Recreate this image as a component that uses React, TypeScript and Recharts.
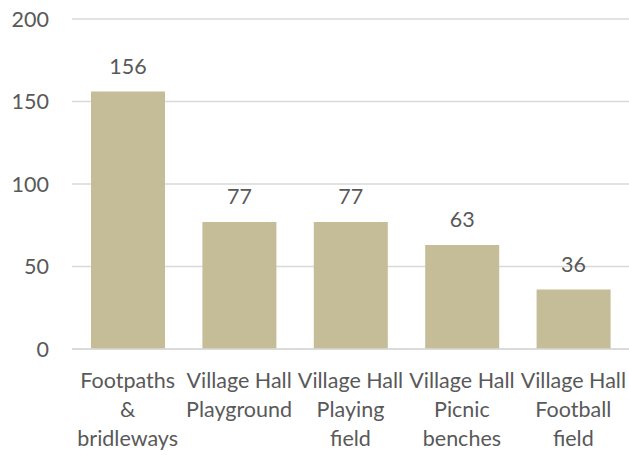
import { BarChart, Bar, XAxis, YAxis, CartesianGrid, LabelList } from "recharts";

const categories = ["Footpaths & bridleways", "Village Hall Playground", "Village Hall Playing field", "Village Hall Picnic benches", "Village Hall Football field"];
const labelLines = [
  ["Footpaths", "&", "bridleways"],
  ["Village Hall", "Playground"],
  ["Village Hall", "Playing", "field"],
  ["Village Hall", "Picnic", "benches"],
  ["Village Hall", "Football", "field"],
];
const counts = [156, 77, 77, 63, 36];
const yTicks = [0, 50, 100, 150, 200];

const FONT = "Lato, 'Noto Sans', sans-serif";
const TEXT = "#595959";

function CategoryTick(props: any) {
  const { x, y, payload } = props;
  const idx = categories.indexOf(payload.value);
  const lines = labelLines[idx] || [payload.value];
  return (
    <text x={x} y={y} textAnchor="middle" fill={TEXT} fontSize={21.5} fontFamily={FONT}>
      {lines.map((ln, i) => (
        <tspan key={i} x={x} y={y + 31 + i * 29}>
          {ln}
        </tspan>
      ))}
    </text>
  );
}

export default function App() {
  const data = categories.map((c, i) => ({ name: c, count: counts[i] }));

  return (
    <div style={{ position: "absolute", left: 0, top: 0, width: 629, height: 455, background: "#fff" }}>
      <BarChart width={629} height={455} data={data} margin={{ top: 19, right: 0, left: 0, bottom: 0 }}>
        <CartesianGrid vertical={false} stroke="#d9d9d9" strokeWidth={1.5} />
        <XAxis
          dataKey="name"
          axisLine={{ stroke: "#d9d9d9", strokeWidth: 1.5 }}
          tickLine={false}
          interval={0}
          tick={<CategoryTick />}
          height={106}
        />
        <YAxis
          domain={[0, 200]}
          ticks={yTicks}
          width={72}
          axisLine={false}
          tickLine={false}
          tickSize={0}
          tickMargin={23}
          tick={{ fill: TEXT, fontSize: 21.5, fontFamily: FONT }}
        />
        <Bar dataKey="count" fill="#C4BD97" barSize={74} isAnimationActive={false}>
          <LabelList dataKey="count" position="top" offset={18} fill={TEXT} fontSize={21.5} fontFamily={FONT} />
        </Bar>
      </BarChart>
    </div>
  );
}
